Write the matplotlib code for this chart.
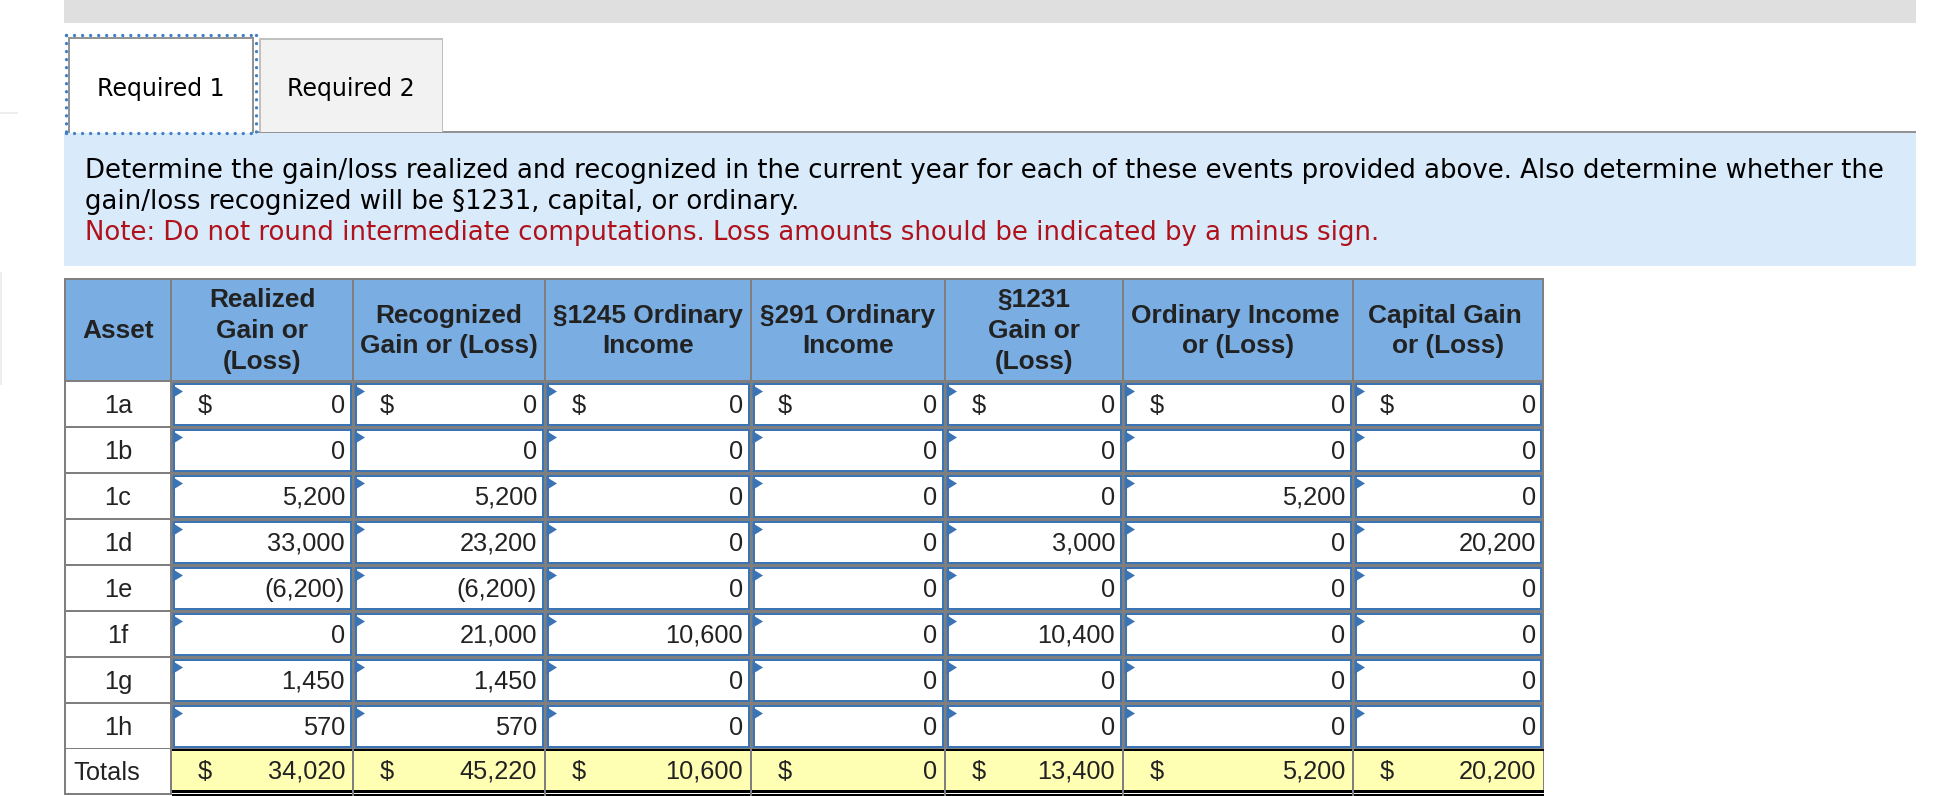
import matplotlib
matplotlib.use("Agg")
import matplotlib.pyplot as plt
from matplotlib.patches import Rectangle, Polygon

assets = ["1a", "1b", "1c", "1d", "1e", "1f", "1g", "1h"]
# a trailing space in a header line shifts it left, like the wrapped html text in the page
headers = ["Realized\nGain or\n(Loss)", "Recognized\nGain or (Loss)", "§1245 Ordinary\nIncome",
           "§291 Ordinary\nIncome", "§1231\nGain or\n(Loss)", "Ordinary Income \nor (Loss)",
           "Capital Gain \nor (Loss)"]

realized = [0, 0, 5200, 33000, -6200, 0, 1450, 570]
recognized = [0, 0, 5200, 23200, -6200, 21000, 1450, 570]
sec1245 = [0, 0, 0, 0, 0, 10600, 0, 0]
sec291 = [0, 0, 0, 0, 0, 0, 0, 0]
sec1231 = [0, 0, 0, 3000, 0, 10400, 0, 0]
ordinary = [0, 0, 5200, 0, 0, 0, 0, 0]
capital = [0, 0, 0, 20200, 0, 0, 0, 0]
totals = [34020, 45220, 10600, 0, 13400, 5200, 20200]

columns = [realized, recognized, sec1245, sec291, sec1231, ordinary, capital]

# layout, in pixels of the screenshot
col_x = [65, 171, 353, 545, 751, 945, 1123, 1353, 1543]
text_right = [345, 537, 743, 937, 1115, 1345, 1536]
header_top = 279
header_bottom = 381
row_h = 46
total_top = 749
total_bottom = 794
page_right = 1916

GRAY = "#7f7f7f"
BLUE = "#3b74b5"
HEAD = "#7aade2"
YELLOW = "#ffffb3"
INK = "#222222"
ARIAL = "Liberation Sans"
VERDANA = "DejaVu Sans"
BODY_SIZE = 18.3
HEAD_SIZE = 18.9


def box(ax, x0, y0, x1, y1, color):
    ax.add_patch(Rectangle((x0, y0), x1 - x0, y1 - y0, facecolor=color, edgecolor="none", linewidth=0))


def money(v):
    if v < 0:
        return f"({-v:,})"
    return f"{v:,}"


fig = plt.figure(figsize=(19.44, 7.96), dpi=100)
ax = fig.add_axes([0, 0, 1, 1])
ax.set_xlim(0, 1944)
ax.set_ylim(796, 0)
ax.axis("off")

# page furniture
box(ax, 64, 0, page_right, 23, "#dfdfdf")
box(ax, 64, 133, page_right, 266, "#d9eafa")
box(ax, 258, 131, page_right, 133, "#939393")
box(ax, 0, 112, 18, 114, "#eeeeee")
box(ax, 0, 272, 2, 385, "#eeeeee")

# tabs
box(ax, 259, 38, 443, 132, "#c0c0c0")
box(ax, 260.5, 39.5, 441.5, 132, "#f2f2f2")
box(ax, 68, 37, 254, 133, "#939393")
box(ax, 70, 39, 252, 133, "white")
dots = dict(color="#3f7fc8", lw=2.4, ls=(0, (0.01, 2.4)), dash_capstyle="round")
ax.plot([66, 255], [35, 35], **dots)
ax.plot([66, 255], [133, 133], **dots)
ax.plot([66, 66], [35, 133], **dots)
ax.plot([255.5, 255.5], [35, 133], **dots)
ax.text(161, 96, "Required 1", family=VERDANA, fontsize=17.0, color="black", ha="center", va="baseline")
ax.text(351, 96, "Required 2", family=VERDANA, fontsize=17.0, color="black", ha="center", va="baseline")

# instructions
line1 = "Determine the gain/loss realized and recognized in the current year for each of these events provided above. Also determine whether the"
line2 = "gain/loss recognized will be §1231, capital, or ordinary."
line3 = "Note: Do not round intermediate computations. Loss amounts should be indicated by a minus sign."
ax.text(85, 178, line1, family=VERDANA, fontsize=18.75, color="black", va="baseline")
ax.text(85, 209, line2, family=VERDANA, fontsize=18.75, color="black", va="baseline")
ax.text(85, 240, line3, family=VERDANA, fontsize=18.75, color="#b0121b", va="baseline")

# table frame and header
box(ax, col_x[0] - 1, header_top - 1, col_x[-1] + 1, total_bottom + 0.5, GRAY)
box(ax, col_x[0] + 1, header_top + 1, col_x[-1] - 1, header_bottom - 1, HEAD)
for x in col_x[1:-1]:
    box(ax, x - 1, header_top, x + 1, header_bottom, GRAY)

ax.text((col_x[0] + col_x[1]) / 2, 338, "Asset", family=ARIAL, weight="bold", fontsize=HEAD_SIZE,
        color=INK, ha="center", va="baseline")
for i, head in enumerate(headers):
    cx = (col_x[i + 1] + col_x[i + 2]) / 2
    lines = head.split("\n")
    first = 307 if len(lines) == 3 else 322.5
    for j, line in enumerate(lines):
        shift = -3 if line.endswith(" ") else 0
        ax.text(cx + shift, first + j * 30.8, line.strip(), family=ARIAL, weight="bold", fontsize=HEAD_SIZE,
                color=INK, ha="center", va="baseline")

# asset rows
for r, asset in enumerate(assets):
    top = header_bottom + r * row_h
    box(ax, col_x[0] + 1, top + 1, col_x[1] - 1, top + row_h - 1, "white")
    ax.text((col_x[0] + col_x[1]) / 2, top + 32, asset, family=ARIAL, fontsize=BODY_SIZE, color=INK,
            ha="center", va="baseline")
    for c, values in enumerate(columns):
        left = col_x[c + 1]
        right = col_x[c + 2]
        box(ax, left + 1.5, top + 1.5, right - 1.2, top + row_h - 1, BLUE)
        box(ax, left + 3.7, top + 3.5, right - 3, top + row_h - 3, "white")
        ax.add_patch(Polygon([(left + 1.5, top + 4), (left + 12, top + 10.5), (left + 1.5, top + 17)],
                             facecolor=BLUE, edgecolor="none"))
        if r == 0:
            ax.text(left + 27, top + 32, "$", family=ARIAL, fontsize=BODY_SIZE, color=INK, va="baseline")
        ax.text(text_right[c], top + 32, money(values[r]), family=ARIAL, fontsize=BODY_SIZE, color=INK,
                ha="right", va="baseline")

# totals row
box(ax, col_x[0] + 1, total_top, col_x[1] - 1, total_bottom - 1, "white")
ax.text(73, total_top + 31, "Totals", family=ARIAL, fontsize=BODY_SIZE, color=INK, va="baseline")
box(ax, col_x[1] + 1, total_top, col_x[-1] - 0.5, total_bottom, YELLOW)
box(ax, col_x[1] + 1, total_bottom - 2, col_x[-1] + 0.5, total_bottom, "white")
box(ax, col_x[1] + 1, total_top - 0.5, col_x[-1] + 1, total_top + 2, "black")
box(ax, col_x[1] + 1, total_bottom - 4.5, col_x[-1] + 1, total_bottom - 1.5, "black")
box(ax, col_x[1] + 1, total_bottom, col_x[-1] + 1, 796, "black")
for x in col_x[2:-1]:
    box(ax, x - 0.8, total_top, x + 0.8, 796, GRAY)
for c, total in enumerate(totals):
    ax.text(col_x[c + 1] + 27, total_top + 30, "$", family=ARIAL, fontsize=BODY_SIZE, color=INK, va="baseline")
    ax.text(text_right[c], total_top + 30, money(total), family=ARIAL, fontsize=BODY_SIZE, color=INK,
            ha="right", va="baseline")

fig.savefig("out.png", dpi=100)
